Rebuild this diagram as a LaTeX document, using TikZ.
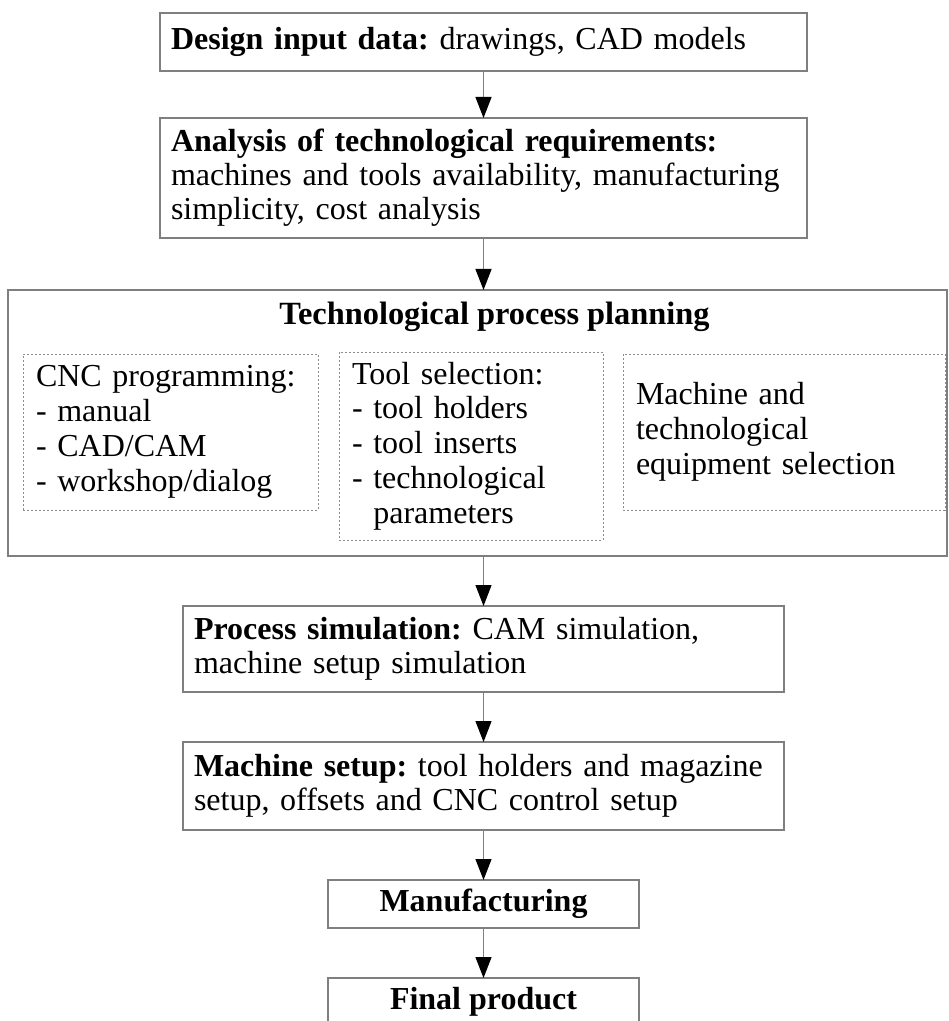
\documentclass[tikz,border=0pt]{standalone}
\usepackage{fontspec}
\setmainfont{Liberation Serif}
\usepackage{tikz}
\usetikzlibrary{positioning,arrows.meta}
\definecolor{lineGrey}{HTML}{7F7F7F}
\definecolor{dotGrey}{HTML}{8C8C8C}
\frenchspacing
\hyphenpenalty=10000
\exhyphenpenalty=10000

\begin{document}
\begin{tikzpicture}[
  node distance=25pt,
  box/.style={rectangle, draw=lineGrey, line width=0.6pt, inner xsep=5.5pt, inner ysep=0pt,
    outer sep=0pt, align=left, font=\fontsize{16}{17}\selectfont},
  widebox/.style={box, minimum width=323.5pt, text width=312.5pt},
  midbox/.style={box, minimum width=300.5pt, text width=289.5pt},
  smallbox/.style={box, minimum width=155.5pt, minimum height=24pt, align=center,
    font=\fontsize{16}{17}\selectfont\bfseries},
  subbox/.style={rectangle, draw=dotGrey, line width=0.5pt, dash pattern=on 1pt off 1pt,
    inner xsep=6.5pt, inner ysep=0pt, outer sep=0pt, align=left, font=\fontsize{16}{17.4}\selectfont},
  flow/.style={draw=lineGrey, line width=0.6pt, -{Triangle[length=10.5pt, width=8pt, color=black]}}
]
  \useasboundingbox (0,0) rectangle (474pt,-510.5pt);
  \clip (0,0) rectangle (474pt,-510.5pt);

  \node[widebox, minimum height=29pt] (design) at (241.75pt,-21pt)
    {\textbf{Design input data:} drawings, CAD models};
  \node[widebox, minimum height=60pt, below=23.5pt of design] (analysis)
    {\textbf{Analysis of technological requirements:}\\
     machines and tools availability, manufacturing\\
     simplicity, cost analysis};

  % planning block with its three dotted parts
  \node[rectangle, draw=lineGrey, line width=0.6pt, outer sep=0pt, minimum width=469.5pt,
    minimum height=133pt, below=26pt of analysis, xshift=-3pt] (plan) {};
  \node[anchor=base, font=\fontsize{16.2}{17}\selectfont\bfseries] (plantitle)
    at ([xshift=8.5pt, yshift=-17.5pt]plan.north) {Technological process planning};
  \node[subbox, minimum width=147.5pt, minimum height=78pt, text width=134.5pt,
    below right=32pt and 7.5pt of plan.north west] (cncprog)
    {CNC programming:\\- manual\\- CAD/CAM\\- workshop/dialog};
  \node[subbox, minimum width=132pt, minimum height=94pt, text width=119pt,
    below right=31pt and 165.5pt of plan.north west] (toolsel)
    {Tool selection:\\- tool holders\\- tool inserts\\- technological\\\phantom{- }parameters};
  \node[subbox, minimum width=161pt, minimum height=78pt, text width=148pt,
    below left=32pt and 1pt of plan.north east] (machsel)
    {Machine and\\technological\\equipment selection};

  \node[midbox, minimum height=43pt, below=25pt of plan, xshift=3pt] (sim)
    {\textbf{Process simulation:} CAM simulation,\\ machine setup simulation};
  \node[midbox, minimum height=44pt, below=of sim] (setup)
    {\textbf{Machine setup:} tool holders and magazine\\ setup, offsets and CNC control setup};
  \node[smallbox, below=of setup] (manuf) {Manufacturing};
  \node[smallbox, below=of manuf] (final) {Final product};

  \foreach \a/\b in {design/analysis, sim/setup, setup/manuf, manuf/final}
    \draw[flow] (\a.south) -- (\b.north);
  \draw[flow] (analysis.south) -- (analysis.south |- plan.north);
  \draw[flow] (sim.north |- plan.south) -- (sim.north);
\end{tikzpicture}
\end{document}
